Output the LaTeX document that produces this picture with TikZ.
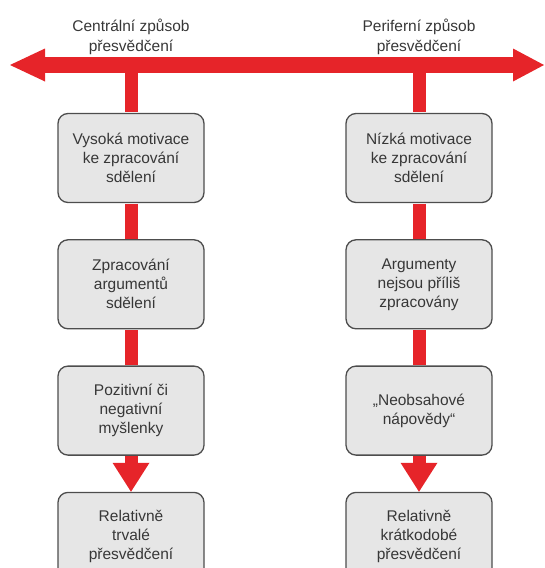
\documentclass[tikz,border=0pt]{standalone}
\usepackage{fontspec}
\setmainfont{Liberation Sans}
\usetikzlibrary{arrows.meta, positioning}
\definecolor{elmred}{RGB}{230,36,41}
\definecolor{boxgray}{RGB}{230,230,230}
\definecolor{edgegray}{RGB}{77,77,77}
\definecolor{txtgray}{RGB}{55,55,55}

\begin{document}
\begin{tikzpicture}[
  x=1pt, y=-1pt,
  box/.style = {draw=edgegray, line width=1.3pt, fill=boxgray, rounded corners=10pt,
    minimum height=89pt, minimum width=146pt, align=center, text=txtgray,
    font=\fontsize{15.5}{19}\selectfont},
  toplabel/.style = {align=center, text=txtgray, font=\fontsize{15.5}{20}\selectfont},
  bar/.style = {draw=elmred, line width=13pt, shorten <=0.65pt, shorten >=0.65pt},
  bigarrow/.style = {draw=elmred, fill=elmred, line width=16pt,
    {Triangle[length=35pt, width=33pt, line width=0pt]}-{Triangle[length=31pt, width=33pt, line width=0pt]}},
  downarrow/.style = {draw=elmred, fill=elmred, line width=13pt, shorten <=0.65pt,
    -{Triangle[length=29pt, width=37pt, line width=0pt]}},
  node distance=36pt
]
\useasboundingbox (0,0) rectangle (544,568);
\clip (0,0) rectangle (544,568);

% ======================================================
% Two routes of persuasion (red double arrow)
% ======================================================
\coordinate (westend) at (10,65);
\coordinate (eastend) at (544,65);
\draw[bigarrow] (westend) -- (eastend);

\node[toplabel] (centrlab) at (131,37) {Centrální způsob\\přesvědčení};
\node[toplabel] (periflab) at (419,37) {Periferní způsob\\přesvědčení};

% ======================================================
% Central route (left column)
% ======================================================
\node[box] (highmot) at (131,158) {Vysoká motivace\\ke zpracování\\sdělení};
\node[box, below=of highmot] (procarg) {Zpracování\\argumentů\\sdělení};
\node[box, below=of procarg] (thoughts) {Pozitivní či\\negativní\\myšlenky};
\node[box, below=of thoughts] (lasting) {Relativně\\trvalé\\přesvědčení};

\draw[bar] (highmot.north |- westend) -- (highmot.north);
\draw[bar] (highmot.south) -- (procarg.north);
\draw[bar] (procarg.south) -- (thoughts.north);
\draw[downarrow] (thoughts.south) -- (lasting.north);

% ======================================================
% Peripheral route (right column)
% ======================================================
\node[box] (lowmot) at (419,158) {Nízká motivace\\ke zpracování\\sdělení};
\node[box, below=of lowmot] (noproc) {Argumenty\\nejsou příliš\\zpracovány};
\node[box, below=of noproc] (cues) {„Neobsahové\\nápovědy“};
\node[box, below=of cues] (shortterm) {Relativně\\krátkodobé\\přesvědčení};

\draw[bar] (lowmot.north |- eastend) -- (lowmot.north);
\draw[bar] (lowmot.south) -- (noproc.north);
\draw[bar] (noproc.south) -- (cues.north);
\draw[downarrow] (cues.south) -- (shortterm.north);
\end{tikzpicture}
\end{document}
